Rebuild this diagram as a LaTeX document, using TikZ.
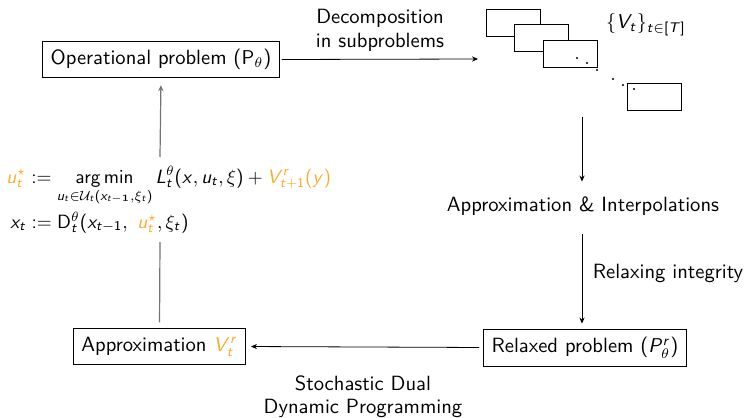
\documentclass[tikz,border=0pt]{standalone}
\usepackage{amsmath}
\usetikzlibrary{arrows.meta}
\renewcommand\familydefault{\sfdefault}
\DeclareSymbolFont{operators}{OT1}{cmss}{m}{n}
\DeclareSymbolFont{sfletters}{OT1}{cmss}{m}{sl}
\DeclareMathSymbol{x}{\mathalpha}{sfletters}{`x}
\DeclareMathSymbol{u}{\mathalpha}{sfletters}{`u}
\DeclareMathSymbol{t}{\mathalpha}{sfletters}{`t}
\DeclareMathSymbol{y}{\mathalpha}{sfletters}{`y}
\DeclareMathSymbol{r}{\mathalpha}{sfletters}{`r}
\DeclareMathSymbol{L}{\mathalpha}{sfletters}{`L}
\DeclareMathSymbol{V}{\mathalpha}{sfletters}{`V}
\DeclareMathSymbol{T}{\mathalpha}{sfletters}{`T}
\DeclareMathSymbol{P}{\mathalpha}{sfletters}{`P}
\definecolor{orng}{RGB}{250,172,42}
\newcommand\fs{\fontsize{10.3}{12}\selectfont}
\begin{document}
\begin{tikzpicture}[x=0.5pt,y=-0.5pt,
  box/.style={draw, font=\fs, inner sep=4pt, minimum height=16.5pt},
  lbl/.style={font=\fs, align=center},
  formula/.style={font=\fs, anchor=base west, inner sep=0pt},
  arr/.style={-{Stealth[length=3pt,width=2.6pt]}},
  subbox/.style={draw, fill=white, minimum width=27pt, minimum height=13.5pt, inner sep=0pt},
  gline/.style={draw=black!55, line width=0.6pt}]
\useasboundingbox (0,0) rectangle (746,418);

% main nodes
\node[box] (op) at (161,59.5) {Operational problem ($\mathsf{P}_\theta$)};
\node[box, minimum height=17.5pt] (relaxed) at (585,347.5) {Relaxed problem ($P^r_\theta$)};
\node[box] (approx) at (159.5,346.5) {Approximation \textcolor{orng}{$V^r_t$}};
\node[lbl] (ai) at (583,206) {Approximation \& Interpolations};

% labels
\node[lbl] (declbl) at (380,30) {Decomposition\\in subproblems};
\node[lbl] (rellbl) at (668,273) {Relaxing integrity};
\node[lbl, align=center] (sddp) at (363,396.5) {Stochastic Dual\\[-0.5pt]Dynamic Programming};
\node[font=\fs] (vset) at (646,25) {$\{V_t\}_{t\in[T]}$};

% stack of subproblems
\node[subbox] (s1) at (513,22.5) {};
\node[subbox] (s2) at (541,37.5) {};
\node[subbox] (s3) at (570,53.5) {};
\node[subbox] (s4) at (654,96.5) {};
\foreach \p in {(577,58),(587,63),(597,70),(613,79),(623,85),(634,89)}
  \fill \p circle (0.55pt);

% formulas
\node[formula] (f1) at (6,183)
  {\scalebox{0.96}{$\displaystyle \textcolor{orng}{u_t^\star} := \operatorname*{arg\,min}_{u_t\in\mathcal{U}_t(x_{t-\mathbf{1}},\xi_t)} L_t^\theta(x,u_t,\xi) + \textcolor{orng}{V^r_{t+1}(y)}$}};
\node[formula] (f2) at (10,228)
  {\scalebox{0.96}{$x_t := \mathsf{D}_t^\theta(x_{t-1},\ \textcolor{orng}{u_t^\star},\xi_t)$}};

% coordinates
\coordinate (decend) at (478,59);
\coordinate (vstart) at (582,117);
\coordinate (ftop) at (160,157);
\coordinate (fbot) at (160,242);

% connectors
\draw[arr, shorten <=1pt] (op.east) -- (decend);
\draw[arr, shorten >=4pt] (vstart) -- (vstart |- ai.north);
\draw[arr, shorten <=6pt, shorten >=2.5pt] (vstart |- ai.south) -- (vstart |- relaxed.north);
\draw[arr, shorten <=2pt, shorten >=2.5pt] (relaxed.west) -- (approx.east);
\draw[gline, shorten <=3pt] (approx.north) -- (fbot);
\draw[gline, arr, shorten >=3.5pt] (ftop) -- (op.south);
\end{tikzpicture}
\end{document}
